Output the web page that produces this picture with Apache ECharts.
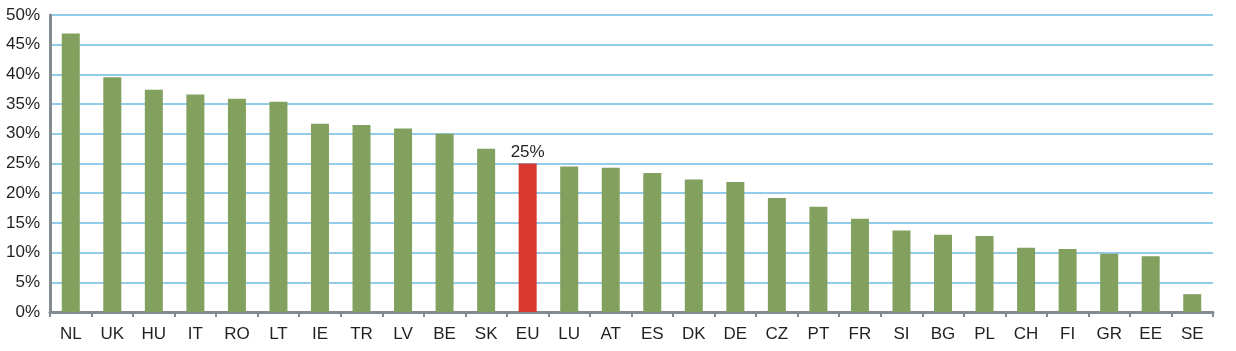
<!DOCTYPE html>
<html lang="en">
<head>
<meta charset="utf-8">
<title>Share by country</title>
<style>
  html, body { margin: 0; padding: 0; background: #fff; }
  #main { width: 1236px; height: 351px; }
</style>
</head>
<body>
<div id="main"></div>
<script src="https://cdn.jsdelivr.net/npm/echarts@6/dist/echarts.min.js"></script>
<script>
// data
var countries = ['NL','UK','HU','IT','RO','LT','IE','TR','LV','BE','SK','EU','LU','AT','ES','DK','DE','CZ','PT','FR','SI','BG','PL','CH','FI','GR','EE','SE'];
var shares = [46.9, 39.5, 37.4, 36.6, 35.9, 35.4, 31.7, 31.5, 30.9, 30.0, 27.5, 25.0, 24.5, 24.3, 23.4, 22.3, 21.9, 19.2, 17.7, 15.7, 13.7, 13.0, 12.8, 10.8, 10.6, 9.8, 9.4, 3.0];
var highlight = 'EU';

var green = '#82a05e';
var red = '#d7382f';
var font = '"Liberation Sans", sans-serif';

var chart = echarts.init(document.getElementById('main'));

var barData = shares.map(function (v, i) {
    var isEU = countries[i] === highlight;
    return {
        value: v,
        itemStyle: { color: isEU ? red : green },
        label: {
            show: isEU,
            position: 'top',
            distance: 3,
            formatter: function (p) { return Math.round(p.value) + '%'; },
            color: '#231f20',
            fontFamily: font,
            fontSize: 17
        }
    };
});

chart.setOption({
    animation: false,
    grid: { left: 50, right: 23, top: 15, bottom: 39 },
    xAxis: {
        type: 'category',
        data: countries,
        axisLine: { lineStyle: { color: '#838a90', width: 3 } },
        axisTick: { show: true, length: 5, lineStyle: { color: '#838a90', width: 2 } },
        axisLabel: { color: '#231f20', fontFamily: font, fontSize: 17, margin: 14, interval: 0 }
    },
    yAxis: {
        type: 'value',
        min: 0,
        max: 50,
        interval: 5,
        axisLine: { show: true, lineStyle: { color: '#838a90', width: 3 } },
        axisTick: { show: false },
        axisLabel: { color: '#231f20', fontFamily: font, fontSize: 17, margin: 10, formatter: '{value}%' },
        splitLine: { lineStyle: { color: '#93cbea', width: 2 } }
    },
    series: [{
        type: 'bar',
        data: barData,
        barWidth: 18
    }]
});
</script>
</body>
</html>
